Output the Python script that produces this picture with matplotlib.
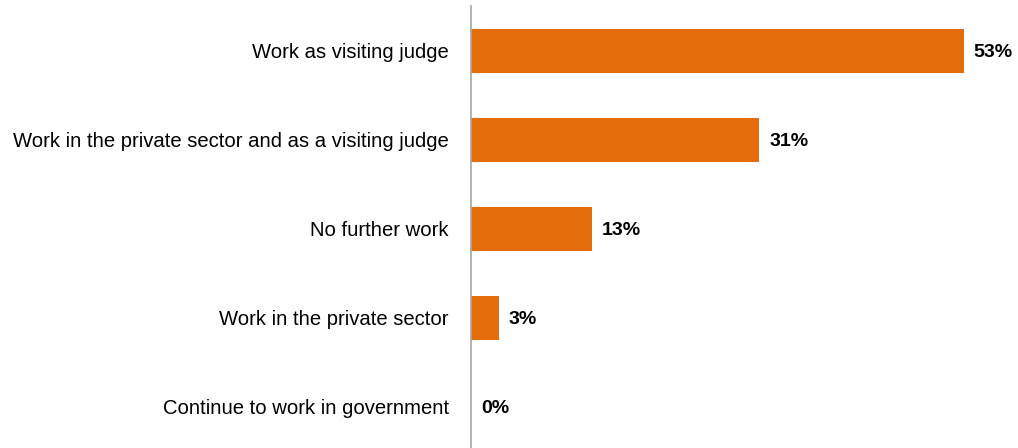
import matplotlib.pyplot as plt

categories = ['Work as visiting judge',
              'Work in the private sector and as a visiting judge',
              'No further work',
              'Work in the private sector',
              'Continue to work in government']
values = [53, 31, 13, 3, 0]

plt.rcParams['font.family'] = ['Liberation Sans', 'DejaVu Sans']

fig = plt.figure(figsize=(10.18, 4.48), dpi=100)
ax = fig.add_axes([0.4627, -0.0078, 0.5118, 0.9933])

pos = list(range(len(categories)))
ax.barh(pos, values, height=0.5, color='#E46C0A')
for p, v in zip(pos, values):
    ax.annotate(f'{v}%', (v, p), xytext=(7, -1), textcoords='offset points',
                va='center', ha='left', fontsize=14, fontweight='bold', color='#000000')

ax.set_xlim(0, 56)
ax.set_ylim(4.5, -0.5)
ax.set_yticks(pos)
ax.set_yticklabels(categories, fontsize=14.6, color='#000000')
ax.tick_params(axis='y', length=0, pad=16)
ax.set_xticks([])
for s in ['top', 'right', 'bottom']:
    ax.spines[s].set_visible(False)
ax.spines['left'].set_color('#A6A6A6')
ax.spines['left'].set_linewidth(1.2)

fig.savefig('out.png', dpi=100)
